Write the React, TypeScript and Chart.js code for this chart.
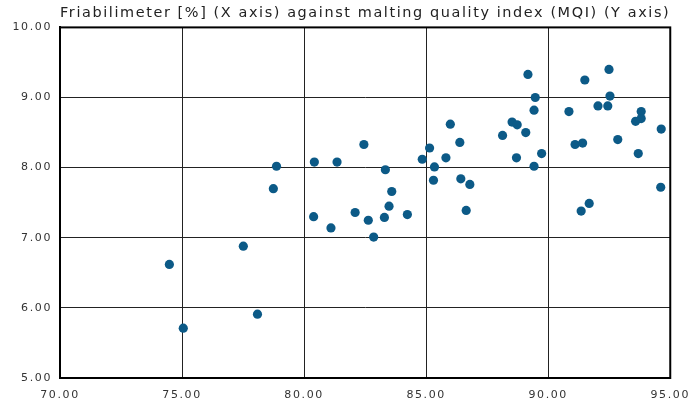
import React, { useEffect, useRef } from "react";
import { Chart, registerables } from "chart.js";

Chart.register(...registerables);

const title = "Friabilimeter [%] (X axis) against malting quality index (MQI) (Y axis)";

const friabilimeter = [
  78.87, 78.74, 80.42, 80.39, 77.51, 74.48, 78.09, 75.05,
  81.35, 82.45, 83.33, 83.59, 83.48, 83.29, 84.23, 81.10, 82.09, 82.63, 82.85,
  84.84, 85.14, 85.34, 85.30, 85.81, 85.99, 86.38, 86.42, 86.79, 86.64,
  89.17, 89.47, 89.42, 88.52, 88.73, 88.13, 89.08, 88.70, 89.73, 89.42,
  91.50, 92.49, 92.53, 92.04, 92.44, 90.85, 93.81, 93.81, 93.58, 94.63,
  91.10, 91.41, 92.85, 93.69, 94.61, 91.68, 91.35,
];

const mqi = [
  8.02, 7.70, 8.08, 7.30, 6.88, 6.62, 5.91, 5.71,
  8.08, 8.33, 7.97, 7.66, 7.45, 7.29, 7.33, 7.14, 7.36, 7.25, 7.01,
  8.12, 8.28, 8.01, 7.82, 8.14, 8.62, 8.36, 7.84, 7.76, 7.39,
  9.33, 9.00, 8.82, 8.65, 8.61, 8.46, 8.50, 8.14, 8.20, 8.02,
  9.25, 9.40, 9.02, 8.88, 8.88, 8.80, 8.80, 8.70, 8.66, 8.55,
  8.33, 8.35, 8.40, 8.20, 7.72, 7.49, 7.38,
];

const xMin = 70, xMax = 95, xStep = 5;
const yMin = 5, yMax = 10, yStep = 1;

const spacingPlugin = {
  id: "spacing",
  beforeDraw(chart: any) {
    (chart.ctx as any).letterSpacing = "1.6px";
  },
};

const framePlugin = {
  id: "frame",
  afterDatasetsDraw(chart: any) {
    const { ctx, chartArea } = chart;
    ctx.save();
    ctx.strokeStyle = "#000";
    ctx.lineWidth = 2;
    ctx.strokeRect(chartArea.left, chartArea.top, chartArea.right - chartArea.left, chartArea.bottom - chartArea.top);
    ctx.restore();
  },
};

export default function App() {
  const ref = useRef<HTMLCanvasElement | null>(null);
  useEffect(() => {
    if (!ref.current) return;
    const points = friabilimeter.map((x, i) => ({ x, y: mqi[i] }));
    const chart = new Chart(ref.current, {
      type: "scatter",
      data: {
        datasets: [
          {
            data: points,
            backgroundColor: "#0c5a87",
            borderWidth: 0,
            pointRadius: 4.6,
          },
        ],
      },
      plugins: [spacingPlugin, framePlugin],
      options: {
        animation: false,
        responsive: false,
        layout: { autoPadding: false, padding: { left: 0, right: 22, top: 0, bottom: 0 } },
        plugins: {
          legend: { display: false },
          tooltip: { enabled: false },
          title: {
            display: true,
            text: title,
            align: "center",
            color: "#222",
            font: { family: "DejaVu Sans", size: 14.5, weight: "normal" },
            padding: { top: 5, bottom: 5, left: 0, right: 0 },
            fullSize: false,
          },
        },
        scales: {
          x: {
            type: "linear",
            min: xMin,
            max: xMax,
            ticks: {
              stepSize: xStep,
              color: "#333",
              font: { family: "DejaVu Sans", size: 11 },
              padding: 11,
              maxRotation: 0,
              callback: (v: any) => Number(v).toFixed(2),
            },
            grid: { color: "#222", lineWidth: 1, drawTicks: false },
            border: { display: true, color: "#000", width: 2 },
            afterFit: (s: any) => { s.height = 28; },
          },
          y: {
            type: "linear",
            min: yMin,
            max: yMax,
            ticks: {
              stepSize: yStep,
              color: "#333",
              font: { family: "DejaVu Sans", size: 11 },
              padding: 8,
              callback: (v: any) => Number(v).toFixed(2),
            },
            grid: { color: "#222", lineWidth: 1, drawTicks: false },
            border: { display: true, color: "#000", width: 2 },
            afterFit: (s: any) => { s.width = 60; },
          },
        },
      },
    });
    return () => chart.destroy();
  }, []);
  return (
    <div style={{ position: "fixed", left: 0, top: 0, width: 697, height: 406, background: "#fff" }}>
      <canvas ref={ref} width={697} height={406} style={{ display: "block" }} />
    </div>
  );
}
